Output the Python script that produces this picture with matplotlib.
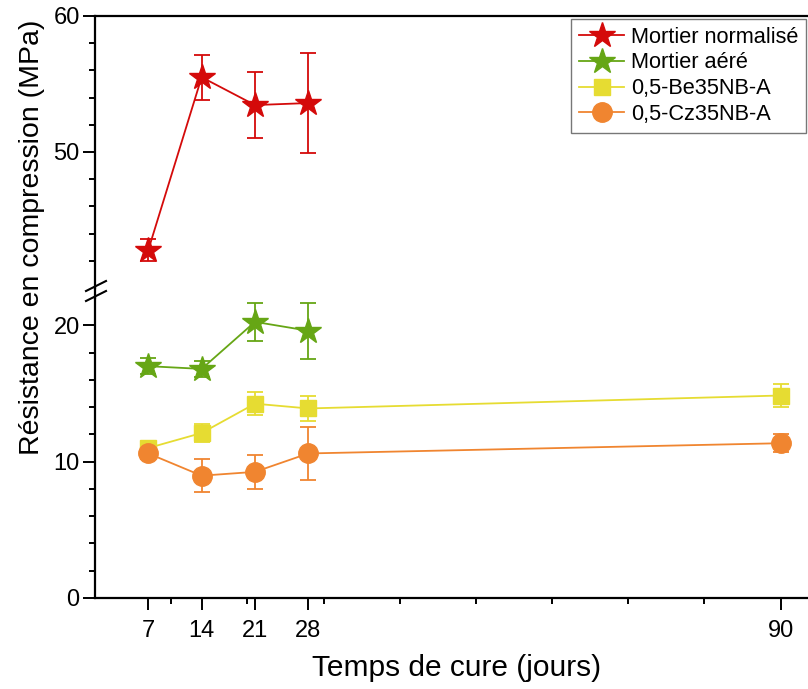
import matplotlib
matplotlib.use("Agg")
import matplotlib.pyplot as plt
from matplotlib.lines import Line2D
import numpy as np

plt.rcParams['font.family'] = ['Liberation Sans', 'DejaVu Sans']

days = [7, 14, 21, 28, 90]
days_short = [7, 14, 21, 28]

norm_vals = [42.8, 55.5, 53.45, 53.6]
norm_err = [0.8, 1.65, 2.4, 3.65]

aere_vals = [17.0, 16.8, 20.25, 19.6]
aere_err = [0.6, 0.6, 1.4, 2.05]

be_vals = [11.0, 12.1, 14.25, 13.9, 14.85]
be_err = [0.45, 0.65, 0.85, 0.95, 0.85]

cz_vals = [10.6, 8.97, 9.25, 10.6, 11.35]
cz_err = [0.4, 1.2, 1.25, 1.95, 0.65]

labels = ['Mortier normalisé', 'Mortier aéré', '0,5-Be35NB-A', '0,5-Cz35NB-A']
colors = ['#d40a0a', '#66a615', '#e6dc32', '#f08530']

W, H = 808, 689
fig = plt.figure(figsize=(W / 100, H / 100), dpi=100)

left = 95 / W
width = 1.0 - left
ax_top = fig.add_axes([left, 1 - 288 / H, width, (288 - 16) / H])
ax_bot = fig.add_axes([left, 1 - 598 / H, width, (598 - 298) / H])

for ax in (ax_top, ax_bot):
    ax.set_xlim(0, 93.6)
    ax.spines['right'].set_visible(False)
    for s in ax.spines.values():
        s.set_linewidth(1.6)
    ax.tick_params(axis='both', which='major', direction='out', length=8.5, width=1.4, labelsize=17)
    ax.tick_params(axis='both', which='minor', direction='out', length=4.5, width=1.4)
    ax.tick_params(axis='y', which='major', pad=2.5)

ax_top.spines['bottom'].set_visible(False)
ax_top.tick_params(axis='x', which='both', bottom=False, labelbottom=False)
ax_bot.spines['top'].set_visible(False)
ax_bot.tick_params(axis='x', which='major', pad=7)

ax_top.set_ylim(40, 60)
ax_top.set_yticks([50, 60])
ax_top.set_yticks(np.arange(42, 60, 2), minor=True)

ax_bot.set_ylim(0, 22)
ax_bot.set_yticks([0, 10, 20])
ax_bot.set_yticks([2, 4, 6, 8, 12, 14, 16, 18], minor=True)
ax_bot.set_xticks(days)
ax_bot.set_xticks(np.arange(10, 100, 10), minor=True)

ekw = dict(capsize=6, elinewidth=1.3, capthick=1.3, linewidth=1.3)

ax_top.errorbar(days_short, norm_vals, yerr=norm_err, color=colors[0], marker='*', ms=19, **ekw)
ax_bot.errorbar(days_short, aere_vals, yerr=aere_err, color=colors[1], marker='*', ms=19, **ekw)
ax_bot.errorbar(days, be_vals, yerr=be_err, color=colors[2], marker='s', ms=11, **ekw)
ax_bot.errorbar(days, cz_vals, yerr=cz_err, color=colors[3], marker='o', ms=14, **ekw)

# break marks
for yb in (286, 296):
    fig.add_artist(Line2D([(86) / W, (106) / W], [1 - (yb + 5) / H, 1 - (yb - 5) / H],
                          color='black', lw=1.5, transform=fig.transFigure))
fig.add_artist(Line2D([left, left], [1 - 298 / H, 1 - 288 / H], color='black', lw=1.6,
                      transform=fig.transFigure))

fig.text(32 / W, 1 - 237 / H, 'Résistance en compression (MPa)', rotation=90,
         ha='center', va='center', fontsize=20.5)
fig.text(457 / W, 1 - 668 / H, 'Temps de cure (jours)', ha='center', va='center', fontsize=21.5)

handles = [
    Line2D([], [], color=colors[0], marker='*', ms=19, lw=1.3),
    Line2D([], [], color=colors[1], marker='*', ms=19, lw=1.3),
    Line2D([], [], color=colors[2], marker='s', ms=11, lw=1.3),
    Line2D([], [], color=colors[3], marker='o', ms=14, lw=1.3),
]
leg = fig.legend(handles, labels, loc='upper right', bbox_to_anchor=(806 / W, 1 - 19 / H),
                 fontsize=15.7, frameon=True, fancybox=False, edgecolor='#555555',
                 handlelength=2.1, handletextpad=0.3, borderpad=0.35, labelspacing=0.22,
                 borderaxespad=0)
leg.get_frame().set_linewidth(1.0)

fig.savefig('out.png', dpi=100)
